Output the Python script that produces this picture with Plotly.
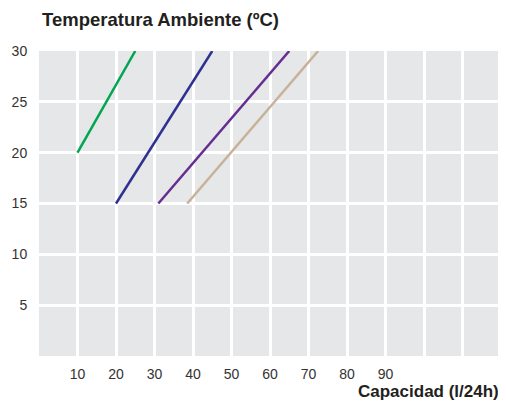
import plotly.graph_objects as go

# Data
series_names = ["Modelo A", "Modelo B", "Modelo C", "Modelo D"]
series_colors = ["#00a651", "#2e3192", "#662d91", "#c7b299"]
capacidad = [
    [10, 25],
    [20, 45],
    [31, 65],
    [38.5, 72.5],
]
temperatura = [
    [20, 30],
    [15, 30],
    [15, 30],
    [15, 30],
]

x_tickvals = [10, 20, 30, 40, 50, 60, 70, 80, 90, 100, 110]
x_ticktext = ["10", "20", "30", "40", "50", "60", "70", "80", "90", "", ""]
y_tickvals = [5, 10, 15, 20, 25, 30]
y_ticktext = ["5", "10", "15", "20", "25", "30"]

fig = go.Figure()
for name, color, xs, ys in zip(series_names, series_colors, capacidad, temperatura):
    fig.add_trace(go.Scatter(x=xs, y=ys, mode="lines", name=name,
                             line=dict(color=color, width=2.5)))

# The page places the figure 8px from the window's top-left corner
fig.update_layout(
    width=498, height=393,
    margin=dict(l=31, r=5, t=43, b=45),
    paper_bgcolor="white",
    plot_bgcolor="#e6e7e8",
    showlegend=False,
    font=dict(family="Liberation Sans, Arial, sans-serif", color="#333333", size=14),
    xaxis=dict(range=[0, 120], tickvals=x_tickvals, ticktext=x_ticktext,
               showgrid=True, gridcolor="white", gridwidth=3, zeroline=False,
               showline=False, ticks="outside", ticklen=5,
               tickcolor="rgba(0,0,0,0)", fixedrange=True),
    yaxis=dict(range=[0, 30], tickvals=y_tickvals, ticktext=y_ticktext,
               showgrid=True, gridcolor="white", gridwidth=3, zeroline=False,
               showline=False, ticks="outside", ticklen=8,
               tickcolor="rgba(0,0,0,0)", fixedrange=True),
    annotations=[
        dict(text="<b>Temperatura Ambiente (ºC)</b>", xref="paper", yref="paper",
             x=0, y=1, xanchor="left", yanchor="bottom", xshift=1, yshift=19,
             showarrow=False, font=dict(size=18.5, color="#231f20")),
        dict(text="<b>Capacidad (l/24h)</b>", xref="paper", yref="paper",
             x=1, y=0, xanchor="right", yanchor="top", xshift=-1, yshift=-25,
             borderpad=0, showarrow=False, font=dict(size=17, color="#231f20")),
    ],
)

fig.write_html("out.html")
